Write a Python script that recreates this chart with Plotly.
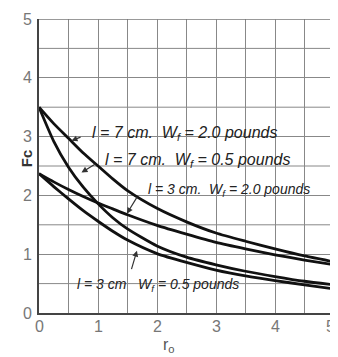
import plotly.graph_objects as go

# ---- data ----
r0 = [0, 0.25, 0.5, 0.75, 1.0, 1.25, 1.5, 2.0, 2.5, 3.0, 3.5, 4.0, 4.5, 5.0]
fc_l7_w20 = [3.5, 3.22, 2.97, 2.72, 2.5, 2.28, 2.08, 1.78, 1.55, 1.36, 1.22, 1.09, 0.97, 0.87]
fc_l7_w05 = [3.5, 2.92, 2.48, 2.14, 1.86, 1.62, 1.43, 1.14, 0.95, 0.82, 0.71, 0.62, 0.54, 0.48]
fc_l3_w20 = [2.37, 2.23, 2.1, 1.98, 1.87, 1.77, 1.67, 1.49, 1.34, 1.2, 1.09, 0.99, 0.9, 0.82]
fc_l3_w05 = [2.37, 2.15, 1.94, 1.74, 1.56, 1.39, 1.24, 1.01, 0.86, 0.73, 0.63, 0.55, 0.48, 0.41]

x_ticks = [0, 1, 2, 3, 4, 5]
y_ticks = [0, 1, 2, 3, 4, 5]

labels = [
    "l = 7 cm.  W<sub>f</sub> = 2.0 pounds",
    "l = 7 cm.  W<sub>f</sub> = 0.5 pounds",
    "l = 3 cm.  W<sub>f</sub> = 2.0 pounds",
    "l = 3 cm   W<sub>f</sub> = 0.5 pounds",
]

FONT = "Liberation Sans"

fig = go.Figure()
for ys in [fc_l7_w20, fc_l7_w05, fc_l3_w20, fc_l3_w05]:
    fig.add_trace(go.Scatter(x=r0, y=ys, mode="lines",
                             line=dict(color="#111", width=2.8, shape="spline", smoothing=0.6),
                             showlegend=False, hoverinfo="skip"))

# text labels (center positions in data coords) and sizes
text_pos = [(2.47, 3.05), (2.68, 2.6), (3.22, 2.1), (2.02, 0.47)]
text_size = [16, 16, 14, 14]
for t, (x, y), s in zip(labels, text_pos, text_size):
    fig.add_annotation(x=x, y=y, text=t, showarrow=False,
                       font=dict(family=FONT, size=s, color="#222", style="italic"),
                       xanchor="center", yanchor="middle")

# arrows (tail -> tip)
arrows = [((0.73, 3.0), (0.55, 2.93)), ((0.98, 2.55), (0.72, 2.39)),
          ((1.68, 2.0), (1.49, 1.69)), ((1.56, 0.72), (1.66, 1.06))]
for (tx, ty), (hx, hy) in arrows:
    fig.add_annotation(x=hx, y=hy, ax=tx, ay=ty, xref="x", yref="y", axref="x", ayref="y",
                       text="", showarrow=True, arrowhead=2, arrowsize=1, arrowwidth=1.2,
                       arrowcolor="#333")

# x tick labels (as annotations so the last one stays inside the page)
for v in x_ticks:
    fig.add_annotation(x=v, y=0, xref="x", yref="paper", text=str(v), showarrow=False,
                       yanchor="top", yshift=-3, xshift=(-4 if v == x_ticks[-1] else 0),
                       font=dict(family=FONT, size=16, color="#777"))

# axis titles
fig.add_annotation(x=2.2, y=-0.072, xref="x", yref="paper", text="r<sub>o</sub>", showarrow=False,
                   yanchor="top", font=dict(family=FONT, size=16, color="#555"))
fig.add_annotation(x=-0.078, y=2.64, xref="paper", yref="y", text="<b>Fc</b>", showarrow=False,
                   textangle=-90, font=dict(family=FONT, size=15, color="#333"))

fig.update_xaxes(range=[0, 5], tickvals=x_ticks, showticklabels=False,
                 showgrid=True, gridcolor="#888", gridwidth=1,
                 showline=True, linecolor="#444", linewidth=2, zeroline=False, ticks="")
fig.update_yaxes(range=[0, 5], tickvals=y_ticks, ticktext=[str(v) for v in y_ticks],
                 showgrid=True, gridcolor="#888", gridwidth=1,
                 showline=True, linecolor="#444", linewidth=2, zeroline=False,
                 ticks="", ticklabeloverflow="allow", ticklabelstandoff=2,
                 tickfont=dict(family=FONT, size=16, color="#777"))

# half-unit grid lines as shapes
for v in [0.5, 1.5, 2.5, 3.5, 4.5]:
    fig.add_shape(type="line", xref="x", yref="paper", x0=v, x1=v, y0=0, y1=1,
                  line=dict(color="#888", width=1), layer="below")
    fig.add_shape(type="line", xref="paper", yref="y", x0=0, x1=1, y0=v, y1=v,
                  line=dict(color="#888", width=1), layer="below")
fig.add_shape(type="line", xref="x", yref="paper", x0=5, x1=5, y0=0, y1=1,
              line=dict(color="#777", width=1.5), layer="below")
fig.add_shape(type="line", xref="paper", yref="y", x0=0, x1=1, y0=5, y1=5,
              line=dict(color="#777", width=1.5), layer="below")

# page body has an 8px margin, so the figure is sized/offset to compensate
fig.update_layout(width=330, height=349, margin=dict(l=31, r=4, t=11, b=44),
                  plot_bgcolor="white", paper_bgcolor="white")
fig.write_html("out.html")
